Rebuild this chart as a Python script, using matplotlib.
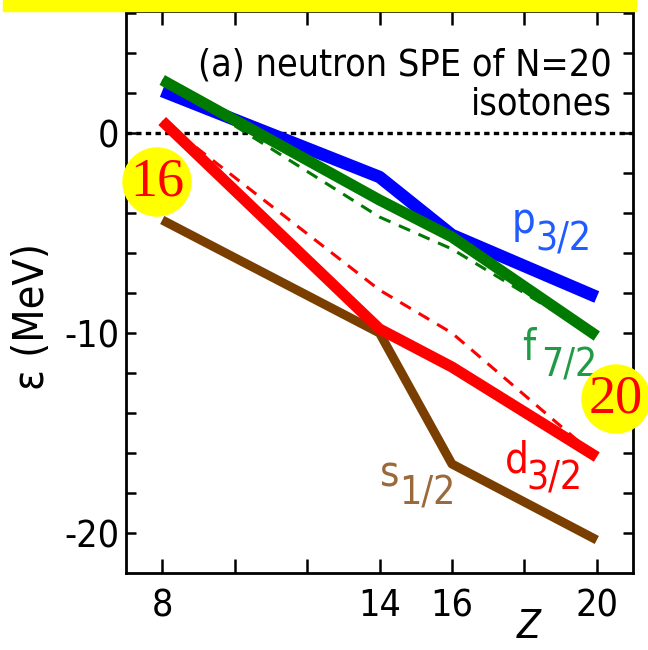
import matplotlib
matplotlib.use("Agg")
import matplotlib.pyplot as plt
from matplotlib.patches import Rectangle, Ellipse

# -----------------------------
# Data
# -----------------------------
Z = [8, 14, 16, 20]

p32 = [2.1, -2.2, -5.1, -8.2]
f72 = [2.65, -3.35, -5.2, -10.15]
d32 = [0.6, -9.8, -11.7, -16.2]
s12 = [-4.35, -10.0, -16.55, -20.35]

# dashed (thin) versions
f72_dash = [2.65, -4.2, -5.8, -10.2]
d32_dash = [0.6, -7.85, -10.0, -16.2]

xticks = [8, 10, 12, 14, 16, 18, 20]
xticklabels = ["8", "", "", "14", "16", "", "20"]
yticks = [6, 4, 2, 0, -2, -4, -6, -8, -10, -12, -14, -16, -18, -20]
yticklabels = ["", "", "", "0", "", "", "", "", "-10", "", "", "", "", "-20"]

title_text = "(a) neutron SPE of N=20\nisotones"

# -----------------------------
# Figure
# -----------------------------
plt.rcParams["font.family"] = "DejaVu Sans"
plt.rcParams["font.stretch"] = "condensed"

W, H = 648, 650
fig = plt.figure(figsize=(W / 100, H / 100), dpi=100)
ax = fig.add_axes([126 / W, 1 - 573 / H, (633 - 126) / W, (573 - 11) / H])

BLUE = "#0000ff"
GREEN = "#007a00"
RED = "#ff0000"
BROWN = "#7a3f00"

ax.axhline(0, color="black", linestyle=(0, (1.6, 1.3)), linewidth=2.4, zorder=1)

ax.plot(Z, s12, color=BROWN, linewidth=6.5, solid_capstyle="butt", zorder=2)
ax.plot(Z, d32_dash, color=RED, linewidth=2.2, linestyle=(0, (4, 3)), zorder=3)
ax.plot(Z, d32, color=RED, linewidth=8, solid_capstyle="butt", zorder=4)
ax.plot(Z, p32, color=BLUE, linewidth=9, solid_capstyle="butt", zorder=5)
ax.plot(Z, f72_dash, color=GREEN, linewidth=2.2, linestyle=(0, (4, 3)), zorder=6)
ax.plot(Z, f72, color=GREEN, linewidth=8, solid_capstyle="butt", zorder=7)

ax.set_xlim(7.0, 21.0)
ax.set_ylim(-22.0, 6.1)
ax.set_xticks(xticks)
ax.set_xticklabels(xticklabels)
ax.set_yticks(yticks)
ax.set_yticklabels(yticklabels)

ax.tick_params(axis="x", direction="in", length=10, width=1.8, top=True,
               labelsize=27, pad=11)
ax.tick_params(axis="y", direction="in", length=7, width=1.8, right=True,
               labelsize=27, pad=5)
for sp in ax.spines.values():
    sp.set_linewidth(2.0)

ax.set_ylabel("\u03b5 (MeV)", fontsize=31)
ax.yaxis.set_label_coords((53 - 126) / 507, (573 - 316) / 562)
ax.set_xlabel("Z", fontsize=28, style="italic")
ax.xaxis.set_label_coords((529 - 126) / 507, (573 - 608) / 562)

# panel text
ax.text(0.958, 0.935, title_text, transform=ax.transAxes, ha="right", va="top",
        fontsize=27, linespacing=1.1)

# orbital labels (letter + subscript drawn at nearly the same size)
ax.text(17.65, -5.0, "p", color="#1f5bff", fontsize=30)
ax.text(18.3, -5.85, "3/2", color="#1f5bff", fontsize=28)
ax.text(17.95, -11.35, "f", color="#1f9a45", fontsize=30)
ax.text(18.45, -12.2, "7/2", color="#1f9a45", fontsize=28)
ax.text(17.45, -17.0, "d", color=RED, fontsize=30)
ax.text(18.05, -17.85, "3/2", color=RED, fontsize=28)
ax.text(14.0, -17.7, "s", color="#9a6a3a", fontsize=30)
ax.text(14.55, -18.6, "1/2", color="#9a6a3a", fontsize=28)

# yellow bar on top
fig.add_artist(Rectangle((3 / W, 1 - 11 / H), 633 / W, 11 / H,
                         transform=fig.transFigure, color="#ffff00", zorder=20))

# yellow markers with magic numbers
for cx, cy, lab in [(157, 182, "16"), (616, 399, "20")]:
    fig.add_artist(Ellipse((cx / W, 1 - cy / H), 68 / W, 68 / H,
                           transform=fig.transFigure, color="#ffff00", zorder=20))
    fig.text(cx / W, 1 - cy / H, lab, color="red", fontsize=39,
             family="Liberation Serif", ha="center", va="center", zorder=21)

fig.savefig("out.png", dpi=100)
